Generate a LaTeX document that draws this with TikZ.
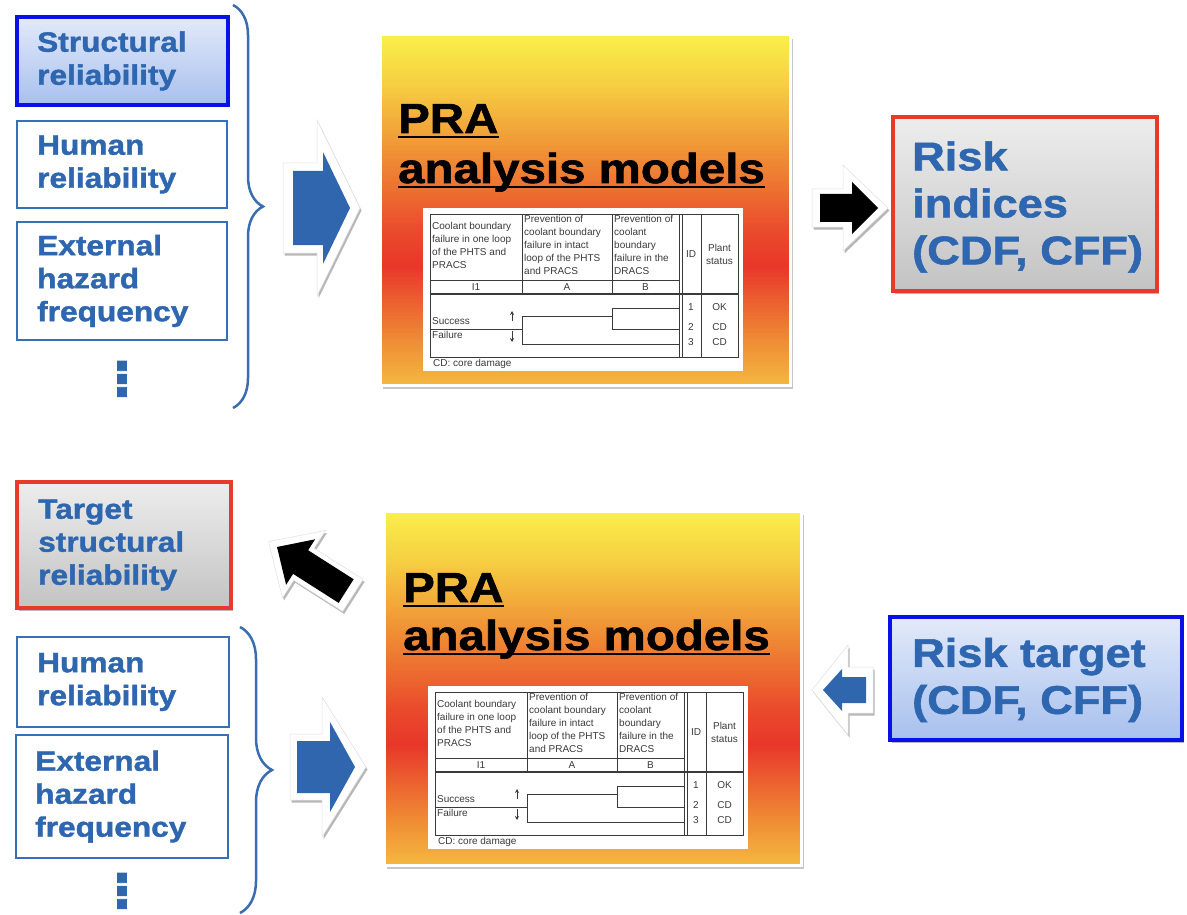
\documentclass[tikz,border=0pt]{standalone}
\usepackage{fontspec}
\setmainfont{Liberation Sans}
\newfontfamily\heavy{Liberation Sans}[FakeStretch=1.13,FakeBold=1.4]
\usetikzlibrary{shadows,decorations.pathreplacing,arrows.meta}

\definecolor{tblue}{HTML}{2E66B0}
\definecolor{thinblue}{HTML}{3670B8}
\definecolor{braceblue}{HTML}{3A6DB0}
\definecolor{thickblue}{HTML}{0A10E8}
\definecolor{redline}{HTML}{E83A2C}
\definecolor{arrowblue}{HTML}{2F66AE}
\definecolor{grayTop}{HTML}{EDEDED}
\definecolor{grayBot}{HTML}{C3C3C3}
\definecolor{bfTop}{HTML}{E3EAF9}
\definecolor{bfBot}{HTML}{A7C0EE}
\definecolor{tabgray}{HTML}{3A3A3A}
\definecolor{praA}{HTML}{F4B840}
\definecolor{praB}{HTML}{EF8F35}
\definecolor{praC}{HTML}{E8372A}
\definecolor{praD}{HTML}{EA4A2C}
\definecolor{praE}{HTML}{F6CF42}
\definecolor{praF}{HTML}{FAF04A}

\pgfdeclareverticalshading{prashade}{100bp}{color(0bp)=(praA); color(25bp)=(praA); color(31bp)=(praB); color(42bp)=(praC); color(47bp)=(praD); color(58bp)=(praB); color(68bp)=(praE); color(75bp)=(praF); color(100bp)=(praF)}

\tikzset{
  shadowed/.style={drop shadow={shadow xshift=1.5pt, shadow yshift=-2.5pt, opacity=0.28, fill=black}},
  plainbox/.style={draw=thinblue, line width=1.8pt, fill=white, inner sep=0pt},
  bluebox/.style={draw=thickblue, line width=4pt, top color=bfTop, bottom color=bfBot, shadowed, inner sep=0pt},
  redbox/.style={draw=redline, line width=4pt, top color=grayTop, bottom color=grayBot, shadowed, inner sep=0pt},
  prabox/.style={draw=white, line width=3pt, shading=prashade, drop shadow={shadow xshift=3pt, shadow yshift=-4pt, opacity=0.22, fill=black}, inner sep=0pt},
  smalltxt/.style={anchor=west, align=left, inner sep=0pt, text=tblue, font=\heavy\bfseries\fontsize{28}{33}\selectfont},
  bigtxt/.style={anchor=west, align=left, inner sep=0pt, text=tblue, font=\heavy\bfseries\fontsize{40}{47}\selectfont},
  titletxt/.style={anchor=base west, inner sep=0pt, text=black, font=\heavy\bfseries\fontsize{42}{50}\selectfont},
  dotstxt/.style={rotate=-90, inner sep=0pt, text=tblue, font=\heavy\bfseries\fontsize{60}{60}\selectfont},
  bracepath/.style={draw=braceblue, line width=2.5pt, decorate},
  outline/.style={fill=white, draw=black!12, line width=0.5pt, shadowed},
  tline/.style={draw=tabgray, line width=0.8pt},
  tt/.style={inner sep=0pt, text=tabgray, font=\fontsize{10}{13}\selectfont},
}

\newcommand{\pratable}[2]{%
\begin{scope}[shift={#2}]
  \fill[white] (-7,-6) rectangle (313,157);
  \draw[tline] (0,0) rectangle (308,143);
  \draw[tline] (92,0) -- (92,80) (182,0) -- (182,80);
  \draw[tline] (249,0) -- (249,143) (252.5,0) -- (252.5,143) (271,0) -- (271,143);
  \draw[tline] (0,66) -- (249,66);
  \draw[tline, line width=1.3pt] (0,80) -- (308,80);
  \draw[tline] (0,115) -- (92,115) (92,102) -- (92,130) (92,102) -- (182,102)
     (182,94) -- (182,115) (182,94) -- (249,94) (182,115) -- (249,115) (92,130) -- (249,130);
  \draw[tline, line width=1pt, -{Stealth[length=4pt,width=4pt]}] (82,107) -- (82,97);
  \draw[tline, line width=1pt, -{Stealth[length=4pt,width=4pt]}] (82,117) -- (82,128);
  \node[tt, anchor=north west, align=left] (#1h1) at (2,8) {Coolant boundary\\failure in one loop\\of the PHTS and\\PRACS};
  \node[tt, anchor=north west, align=left] (#1h2) at (94,1.3) {Prevention of\\coolant boundary\\failure in intact\\loop of the PHTS\\and PRACS};
  \node[tt, anchor=north west, align=left] (#1h3) at (184,1.3) {Prevention of\\coolant\\boundary\\failure in the\\DRACS};
  \node[tt] (#1id) at (261,40) {ID};
  \node[tt, align=center] (#1ps) at (289.5,40) {Plant\\status};
  \node[tt] (#1l1) at (46,73) {I1};
  \node[tt] (#1la) at (137,73) {A};
  \node[tt] (#1lb) at (215.5,73) {B};
  \node[tt, anchor=west] (#1s) at (2,107) {Success};
  \node[tt, anchor=west] (#1f) at (2,121) {Failure};
  \node[tt] (#1n1) at (261,93.5) {1};
  \node[tt] (#1n2) at (261,113.5) {2};
  \node[tt] (#1n3) at (261,128.5) {3};
  \node[tt] (#1o1) at (289.5,93.5) {OK};
  \node[tt] (#1o2) at (289.5,113.5) {CD};
  \node[tt] (#1o3) at (289.5,128.5) {CD};
  \node[tt, anchor=west] (#1cd) at (3,149.5) {CD: core damage};
\end{scope}}

\begin{document}
\begin{tikzpicture}[x=1pt,y=-1pt]
\useasboundingbox (0,0) rectangle (1187,915);
\fill[white] (0,0) rectangle (1187,915);

% ---------------- top half ----------------
\node[bluebox, minimum width=211pt, minimum height=88pt] (sr) at (122.5,61) {};
\node[smalltxt] (srt) at (37,61) {Structural\\reliability};
\node[plainbox, minimum width=210pt, minimum height=87pt] (hr) at (122,164.5) {};
\node[smalltxt] (hrt) at (37,164.5) {Human\\reliability};
\node[plainbox, minimum width=210pt, minimum height=118pt] (eh) at (122,281) {};
\node[smalltxt] (eht) at (37,281) {External\\hazard\\frequency};
\node[dotstxt] (dots1) at (122,379) {.\kern-5.8pt.\kern-5.8pt.};

\coordinate (b1s) at (233,5);
\coordinate (b1e) at (233,408);
\draw[bracepath, decoration={brace, amplitude=30pt}] (b1s) -- (b1e);

% blue block arrow (top)
\filldraw[outline] (283,163) -- (317,163) -- (317,120) -- (360,208) -- (317,296) -- (317,253) -- (283,253) -- cycle;
\fill[arrowblue] (293,171) -- (323,171) -- (323,152) -- (350,208) -- (323,264) -- (323,245) -- (293,245) -- cycle;

% PRA box (top)
\node[prabox, minimum width=410pt, minimum height=350pt] (pra1) at (585,210) {};
\node[titletxt] (pra1a) at (398,133) {PRA};
\node[titletxt] (pra1b) at (398,183) {analysis models};
\draw[line width=2.5pt] ([yshift=-4pt]pra1a.base west) -- ([yshift=-4pt]pra1a.base east);
\draw[line width=2.5pt] ([yshift=-4pt]pra1b.base west) -- ([yshift=-4pt]pra1b.base east);
\pratable{ta}{(430,214)}

% black arrow (top)
\filldraw[outline] (812,189) -- (843,189) -- (843,165) -- (888,208) -- (843,251) -- (843,227) -- (812,227) -- cycle;
\fill[black] (820,194) -- (852,194) -- (852,182) -- (878,208) -- (852,234) -- (852,222) -- (820,222) -- cycle;

% risk indices
\node[redbox, minimum width=264pt, minimum height=174pt] (ri) at (1025,204) {};
\node[bigtxt] (rit) at (912,207) {Risk\\indices\\(CDF, CFF)};

% ---------------- bottom half ----------------
\node[redbox, minimum width=214pt, minimum height=126pt] (tsr) at (124,545) {};
\node[smalltxt] (tsrt) at (38,545) {Target\\structural\\reliability};

% diagonal black arrow
\begin{scope}[shift={(277,547)}, rotate=147.5]
  \filldraw[outline] (10,0) -- (-32,-40) -- (-32,-19) -- (-90,-19) -- (-90,19) -- (-32,19) -- (-32,40) -- cycle;
  \fill[black] (0,0) -- (-28,-27) -- (-28,-14) -- (-82,-14) -- (-82,14) -- (-28,14) -- (-28,27) -- cycle;
\end{scope}

\node[plainbox, minimum width=212pt, minimum height=90pt] (hr2) at (123,682) {};
\node[smalltxt] (hr2t) at (37,682) {Human\\reliability};
\node[plainbox, minimum width=212pt, minimum height=123pt] (eh2) at (122,796.5) {};
\node[smalltxt] (eh2t) at (35,796.5) {External\\hazard\\frequency};
\node[dotstxt] (dots2) at (122,891) {.\kern-5.8pt.\kern-5.8pt.};

\coordinate (b2s) at (240,627);
\coordinate (b2e) at (240,913);
\draw[bracepath, decoration={brace, amplitude=32pt}] (b2s) -- (b2e);

% blue block arrow (bottom)
\filldraw[outline] (290,734) -- (322,734) -- (322,697) -- (366,767) -- (322,837) -- (322,800) -- (290,800) -- cycle;
\fill[arrowblue] (297,741) -- (330,741) -- (330,722) -- (355,767) -- (330,812) -- (330,793) -- (297,793) -- cycle;

% PRA box (bottom)
\node[prabox, minimum width=417pt, minimum height=354pt] (pra2) at (592.5,688) {};
\node[titletxt] (pra2a) at (403,602) {PRA};
\node[titletxt] (pra2b) at (403,650) {analysis models};
\draw[line width=2.5pt] ([yshift=-4pt]pra2a.base west) -- ([yshift=-4pt]pra2a.base east);
\draw[line width=2.5pt] ([yshift=-4pt]pra2b.base west) -- ([yshift=-4pt]pra2b.base east);
\pratable{tb}{(435,692)}

% blue left arrow
\filldraw[outline] (812,690) -- (848,645) -- (848,667) -- (873,667) -- (873,713) -- (848,713) -- (848,735) -- cycle;
\fill[arrowblue] (823,690) -- (842,669) -- (842,677) -- (866,677) -- (866,703) -- (842,703) -- (842,711) -- cycle;

% risk target
\node[bluebox, minimum width=292pt, minimum height=123pt] (rt) at (1036,678.5) {};
\node[bigtxt] (rtt) at (912,680) {Risk target\\(CDF, CFF)};
\end{tikzpicture}
\end{document}
